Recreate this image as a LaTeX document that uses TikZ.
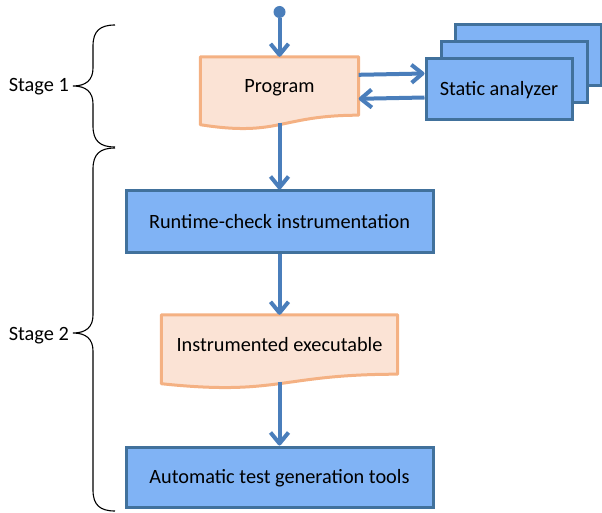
\documentclass[tikz,border=0pt]{standalone}
\usepackage{fontspec}
\setmainfont{Carlito}
\usetikzlibrary{arrows.meta,calc}
\pgfdeclarelayer{background}
\pgfsetlayers{background,main}
\definecolor{peachfill}{HTML}{FBE3D5}
\definecolor{peachline}{HTML}{F4B183}
\definecolor{boxfill}{HTML}{80B3F5}
\definecolor{boxline}{HTML}{41719C}
\definecolor{flow}{HTML}{4A7EBB}

\begin{document}
\begin{tikzpicture}[x=1pt,y=-1pt,
  every node/.style={font=\fontsize{20.3}{24}\selectfont, text=black},
  boxtext/.style={text height=13pt, text depth=0pt},
  procbox/.style={rectangle, boxtext, draw=boxline, fill=boxfill, line width=3pt,
    minimum width=307pt, minimum height=61pt, inner sep=0pt},
  docarea/.style={rectangle, boxtext, inner sep=0pt},
  docshape/.style={draw=peachline, fill=peachfill, line width=3pt, line join=round},
  flowarrow/.style={draw=flow, line width=4pt, line join=round,
    -{Straight Barb[length=11pt,width=18pt,line join=round]}},
  bracket/.style={draw=black, line width=1.1pt},
]
\useasboundingbox (0,0) rectangle (602,513);

% entry point
\node[circle, fill=flow, inner sep=0pt, minimum size=12pt] (start) at (279.5,12) {};

% document: source program
\node[docarea, minimum width=158pt, minimum height=58pt] (prog) at (279.5,86) {Program};
\begin{pgfonlayer}{background}
  \path[docshape] (prog.north west) -- (prog.north east) -- (prog.south east)
    .. controls (prog.south) and ($(prog.south)+(0,22)$) .. ($(prog.south west)+(0,9.5)$) -- cycle;
\end{pgfonlayer}
\coordinate (progb) at ($(prog.south)+(0,8)$);

% stacked static analyzers
\node[procbox, minimum width=146pt] (sa3) at (528,55.5) {};
\node[procbox, minimum width=146pt] (sa2) at (514,72.5) {};
\node[procbox, minimum width=146pt] (sa) at (499,89.5) {Static analyzer};

% processing chain
\node[procbox] (rt) at (279.5,221.5) {Runtime-check instrumentation};
\node[docarea, minimum width=236pt, minimum height=59pt] (ie) at (279.5,344.5) {Instrumented executable};
\begin{pgfonlayer}{background}
  \path[docshape] (ie.north west) -- (ie.north east) -- (ie.south east)
    .. controls (ie.south) and ($(ie.south)+(0,22)$) .. ($(ie.south west)+(0,9.5)$) -- cycle;
\end{pgfonlayer}
\coordinate (ieb) at ($(ie.south)+(0,8)$);
\node[procbox, minimum height=60pt] (atg) at (279.5,477) {Automatic test generation tools};

% connectors
\draw[flowarrow] (start) -- (prog.north);
\draw[flowarrow] ($(prog.north east)+(0,18)$) -- ($(sa.north west)+(0,16)$);
\draw[flowarrow] ($(sa.north west)+(0,40)$) -- ($(prog.north east)+(0,42)$);
\draw[flowarrow] (progb) -- (rt.north);
\draw[flowarrow] (rt.south) -- (ie.north);
\draw[flowarrow] (ieb) -- (atg.north);

% stage braces
\draw[bracket] (115,25) .. controls (100,25) and (93,31) .. (93,46) -- (93,68)
  .. controls (93,80) and (86,86) .. (73,86)
  .. controls (86,86) and (93,92) .. (93,104) -- (93,126)
  .. controls (93,141) and (100,147) .. (115,147);
\draw[bracket] (115,148) .. controls (100,148) and (93,154) .. (93,169) -- (93,315)
  .. controls (93,327) and (86,333) .. (73,333)
  .. controls (86,333) and (93,339) .. (93,351) -- (93,490)
  .. controls (93,505) and (100,511) .. (115,511);
\node[anchor=base east, inner sep=0pt] (s1) at (69,92) {Stage 1};
\node[anchor=base east, inner sep=0pt] (s2) at (69,340) {Stage 2};
\end{tikzpicture}
\end{document}
